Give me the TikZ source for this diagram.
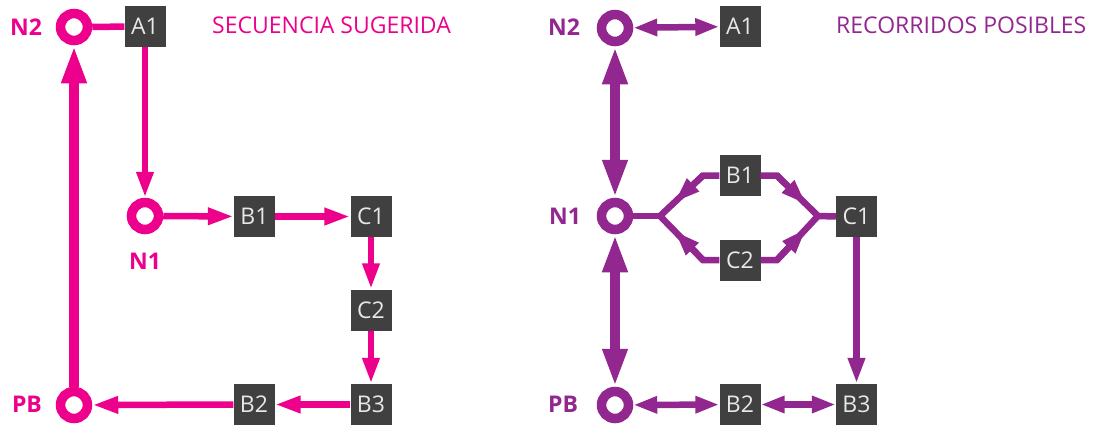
\documentclass[tikz,border=0pt]{standalone}
\usepackage{fontspec}
\setmainfont{Open Sans}
\usetikzlibrary{arrows.meta,calc}
\definecolor{mag}{HTML}{EC008C}
\definecolor{pur}{HTML}{92278F}
\definecolor{boxgray}{HTML}{404040}
\definecolor{boxtext}{HTML}{E8E8E8}
\tikzset{
  stop/.style={circle, draw=#1, fill=white, line width=9.5pt, minimum size=27pt, inner sep=0pt},
  sbox/.style={rectangle, fill=boxgray, text=boxtext, minimum size=41pt, inner sep=0pt, font=\fontsize{23}{23}\selectfont},
  lbl/.style={text=#1, font=\bfseries\fontsize{23}{23}\selectfont},
  ttl/.style={text=#1, font=\fontsize{23}{23}\selectfont, anchor=west, inner sep=0pt},
  ln/.style={draw=#1, line width=6.5pt},
  tk/.style={draw=#1, line width=9.5pt},
  ah/.style={-{Triangle[length=26pt,width=16pt]}},
  ahh/.style={{Triangle[length=24pt,width=16pt]}-{Triangle[length=24pt,width=16pt]}},
  bh/.style={-{Triangle[length=38pt,width=23pt]}},
  bhh/.style={{Triangle[length=38pt,width=23pt]}-{Triangle[length=38pt,width=23pt]}},
}
\begin{document}
\begin{tikzpicture}[x=1pt,y=-1pt]
\useasboundingbox (0,0) rectangle (1096,424);
% ---------- left panel ----------
\node[stop=mag] (lN2) at (74,27) {};
\node[stop=mag] (lN1) at (145,216) {};
\node[stop=mag] (lPB) at (74,405) {};
\node[sbox] (lA1) at (145,26.5) {A1};
\node[sbox] (lB1) at (254.5,216.5) {B1};
\node[sbox] (lC1) at (371,216.5) {C1};
\node[sbox] (lC2) at (371,310) {C2};
\node[sbox] (lB3) at (371,404.5) {B3};
\node[sbox] (lB2) at (254,404.5) {B2};
\node[lbl=mag] (lN2t) at (26,27) {N2};
\node[lbl=mag] (lPBt) at (27,404) {PB};
\node[lbl=mag] (lN1t) at (145,261) {N1};
\node[ttl=mag] (lttl) at (212,25) {SECUENCIA SUGERIDA};
\draw[ln=mag] (lN2) -- (lA1);
\draw[ln=mag, ah] (lA1.south) -- (lN1.north);
\draw[ln=mag, ah] (lN1) -- (lB1);
\draw[ln=mag, ah] (lB1) -- (lC1);
\draw[ln=mag, ah] (lC1) -- (lC2);
\draw[ln=mag, ah] (lC2) -- (lB3);
\draw[ln=mag, ah] (lB3) -- (lB2);
\draw[ln=mag, ah] (lB2) -- (lPB);
\draw[tk=mag, bh] (lPB) -- (lN2);
% ---------- right panel ----------
\node[stop=pur] (rN2) at (615,28) {};
\node[stop=pur] (rN1) at (615,216) {};
\node[stop=pur] (rPB) at (615,405) {};
\node[sbox] (rA1) at (740,26.5) {A1};
\node[sbox] (rB1) at (740,175.5) {B1};
\node[sbox] (rC2) at (740,260) {C2};
\node[sbox] (rC1) at (856.5,216.5) {C1};
\node[sbox] (rB2) at (740,404.5) {B2};
\node[sbox] (rB3) at (856.5,404.5) {B3};
\node[lbl=pur] (rN2t) at (564,27) {N2};
\node[lbl=pur] (rN1t) at (565,216) {N1};
\node[lbl=pur] (rPBt) at (563,404) {PB};
\node[ttl=pur] (rttl) at (836,25) {RECORRIDOS POSIBLES};
\coordinate (j1) at (660,216);
\coordinate (j2) at (818,216);
\coordinate (cb1l) at (703,175.5);
\coordinate (cc2l) at (703,260);
\coordinate (cb1r) at (777,175.5);
\coordinate (cc2r) at (777,260);
\draw[ln=pur] (rN1) -- (j1);
\draw[ln=pur, line join=miter] (rB1.west) -- (cb1l) -- (j1) -- (cc2l) -- (rC2.west);
\draw[ln=pur, line join=miter] (rB1.east) -- (cb1r) -- (j2) -- (cc2r) -- (rC2.east);
\draw[ln=pur] (j2) -- (rC1.west);
\draw[ln=pur, ah] (cb1l) -- ($(j1)!0.33!(cb1l)$);
\draw[ln=pur, ah] (cc2l) -- ($(j1)!0.33!(cc2l)$);
\draw[ln=pur, ah] (cb1r) -- ($(cb1r)!0.72!(j2)$);
\draw[ln=pur, ah] (cc2r) -- ($(cc2r)!0.72!(j2)$);
\draw[ln=pur, ah] (rC1) -- (rB3);
\draw[ln=pur, ahh] (rN2) -- (rA1);
\draw[ln=pur, ahh] (rPB) -- (rB2);
\draw[ln=pur, ahh] (rB2) -- (rB3);
\draw[tk=pur, bhh] (rN2) -- (rN1);
\draw[tk=pur, bhh] (rN1) -- (rPB);
\end{tikzpicture}
\end{document}
